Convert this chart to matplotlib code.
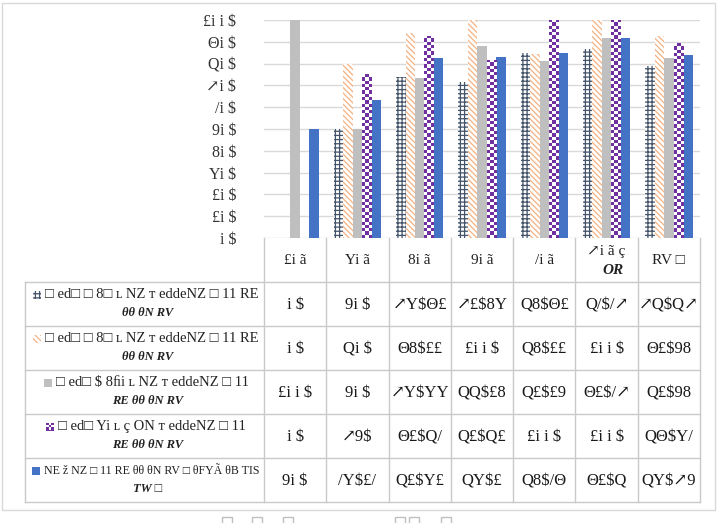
import matplotlib
matplotlib.use('Agg')
import matplotlib.pyplot as plt
from matplotlib.patches import Rectangle
from matplotlib.colors import ListedColormap
import numpy as np

plt.rcParams['font.family'] = ['Liberation Serif', 'DejaVu Serif', 'DejaVu Sans']
plt.rcParams['hatch.linewidth'] = 0.9

# categories / tick labels as they appear in the picture
categories = ['£i ã', 'Yi ã', '8i ã', '9i ã', '/i ã', '↗i ã ç\nOR', 'RV □']
y_ticks = [0, 10, 20, 30, 40, 50, 60, 70, 80, 90, 100]
y_tick_labels = ['i $', '£i $', '£i $', 'Yi $', '8i $', '9i $', '/i $', '↗i $', 'Qi $', 'Θi $', '£i i $']

# series values (percent)
grid_vals = [0, 50, 73.91, 71.43, 84.91, 86.67, 78.87]
orange_vals = [0, 80, 94.12, 100, 84.21, 100, 92.54]
gray_vals = [100, 50, 73.33, 88.24, 81.25, 91.67, 82.54]
purple_vals = [0, 75, 92.86, 81.82, 100, 100, 89.36]
blue_vals = [50, 63.16, 82.35, 83.2, 84.69, 91.8, 83.75]

# row labels of the data table (two lines each)
row_labels = [
    ('□ ed□ □ 8□ ʟ NZ ᴛ eddeNZ □ 11 RE', 'θθ θN RV'),
    ('□ ed□ □ 8□ ʟ NZ ᴛ eddeNZ □ 11 RE', 'θθ θN RV'),
    ('□ ed□ $ 8ﬁi ʟ NZ ᴛ eddeNZ □ 11', 'RE θθ θN RV'),
    ('□ ed□ Yi ʟ ç ON ᴛ eddeNZ □ 11', 'RE θθ θN RV'),
    ('NE ž NZ □ 11 RE θθ θN RV □ θFYÃ θB TIS', 'TW □'),
]

# table cell texts
cell_text = [
    ['i $', '9i $', '↗Y$Θ£', '↗£$8Y', 'Q8$Θ£', 'Q/$/↗', '↗Q$Q↗'],
    ['i $', 'Qi $', 'Θ8$££', '£i i $', 'Q8$££', '£i i $', 'Θ£$98'],
    ['£i i $', '9i $', '↗Y$YY', 'QQ$£8', 'Q£$£9', 'Θ£$/↗', 'Q£$98'],
    ['i $', '↗9$', 'Θ£$Q/', 'Q£$Q£', '£i i $', '£i i $', 'QΘ$Y/'],
    ['9i $', '/Y$£/', 'Q£$Y£', 'QY$£', 'Q8$/Θ', 'Θ£$Q', 'QY$↗9'],
]

PURPLE = '#7030A0'
checker_cmap = ListedColormap([PURPLE, 'white'])
styles = [
    dict(facecolor='white', edgecolor='#44546A', hatch='++++', linewidth=0),
    dict(facecolor='white', edgecolor='#F4B183', hatch='\\\\\\\\\\\\', linewidth=0),
    dict(facecolor='#BFBFBF', edgecolor='#BFBFBF', linewidth=0),
    dict(facecolor=PURPLE, edgecolor=PURPLE, linewidth=0),
    dict(facecolor='#4472C4', edgecolor='#4472C4', linewidth=0),
]
series = [grid_vals, orange_vals, gray_vals, purple_vals, blue_vals]


def checker_fill(ax, rect, nx, cell_h):
    x0, y0 = rect.get_x(), rect.get_y()
    w, h = rect.get_width(), rect.get_height()
    if h == 0:
        return
    ny = max(1, int(round(abs(h) / cell_h)))
    pat = (np.add.outer(np.arange(ny), np.arange(nx)) % 2).astype(float)
    im = ax.imshow(pat, extent=(x0, x0 + w, y0, y0 + h),
                   cmap=checker_cmap, aspect='auto', interpolation='nearest',
                   origin='lower', vmin=0, vmax=1, zorder=rect.get_zorder() + 0.1)
    im.set_clip_path(rect)


W, H = 720, 523
fig = plt.figure(figsize=(7.2, 5.23), dpi=100)

# overlay in pixel coordinates for frame and table
ov = fig.add_axes([0, 0, 1, 1])
ov.set_xlim(0, W)
ov.set_ylim(H, 0)
ov.axis('off')

LINE = '#C9C9C9'
ov.add_patch(Rectangle((1.5, 3), 713.5, 507, fill=False, edgecolor='#D9D9D9', lw=1))

# main bar axes
left, right, top, bottom = 264, 700, 20, 238
ax = fig.add_axes([left / W, 1 - bottom / H, (right - left) / W, (bottom - top) / H])
ax.set_facecolor('none')

n = len(categories)
x = np.arange(n)
bw = 0.152
for i, (vals, st) in enumerate(zip(series, styles)):
    bars = ax.bar(x + (i - 2) * bw, vals, bw, zorder=3, **st)
    if i == 3:
        for b in bars:
            checker_fill(ax, b, 3, 1.5)

ax.set_xlim(-0.5, n - 0.5)
ax.set_ylim(0, 100)
ax.set_yticks(y_ticks)
ax.set_yticklabels(y_tick_labels, fontsize=11.5, color='#333333')
ax.tick_params(axis='y', length=0, pad=20)
ax.set_xticks([])
ax.grid(axis='y', color='#D9D9D9', lw=1, zorder=0)
for s in ax.spines.values():
    s.set_visible(False)

# data table
col_w = (right - left) / n
col_edges = [left + i * col_w for i in range(n + 1)]
row_edges = [238, 282, 326, 370, 414, 458, 502]
lab_left = 25

for xe in col_edges:
    ov.plot([xe, xe], [row_edges[0], row_edges[-1]], color=LINE, lw=1)
ov.plot([lab_left, lab_left], [row_edges[1], row_edges[-1]], color=LINE, lw=1)
for ye in row_edges[1:]:
    ov.plot([lab_left, right], [ye, ye], color=LINE, lw=1)

# header (categories)
hy = (row_edges[0] + row_edges[1]) / 2
for j, c in enumerate(categories):
    cx = left + (j + 0.5) * col_w
    parts = c.split('\n')
    if len(parts) == 1:
        ov.text(cx, hy + 1, parts[0], ha='center', va='center', fontsize=11, color='#222222')
    else:
        ov.text(cx, hy - 8, parts[0], ha='center', va='center', fontsize=11, color='#222222')
        ov.text(cx + 6, hy + 11, parts[1], ha='center', va='center', fontsize=11,
                fontweight='bold', fontstyle='italic', color='#222222')

# values
for r, row in enumerate(cell_text):
    cy = (row_edges[r + 1] + row_edges[r + 2]) / 2
    for j, t in enumerate(row):
        cx = left + (j + 0.5) * col_w
        ov.text(cx, cy + 1, t, ha='center', va='center', fontsize=12, color='#1a1a1a')

# row labels with legend keys
fig.canvas.draw()
renderer = fig.canvas.get_renderer()
inv = ov.transData.inverted()
lab_cx = 146
for r, (l1, l2) in enumerate(row_labels):
    cy = (row_edges[r + 1] + row_edges[r + 2]) / 2
    fs = 8.6 if r == 4 else 10.5
    t1 = ov.text(lab_cx + 6, cy - 9.5, l1, ha='center', va='center', fontsize=fs, color='#222222')
    ov.text(lab_cx + 2, cy + 9.5, l2, ha='center', va='center', fontsize=9,
            fontweight='bold', fontstyle='italic', color='#222222')
    bb = t1.get_window_extent(renderer)
    x0 = inv.transform((bb.x0, bb.y0))[0]
    key = Rectangle((x0 - 12, cy - 13.5), 8, 8, **styles[r])
    ov.add_patch(key)
    if r == 3:
        checker_fill(ov, key, 3, 2.7)
ov.set_xlim(0, W)
ov.set_ylim(H, 0)

# clipped legend keys at the very bottom
for kx in [222, 252, 283, 395, 409, 441]:
    ov.add_patch(Rectangle((kx, 517), 10, 10, fill=False, edgecolor='#BFBFBF', lw=1))

fig.savefig('out.png', dpi=100)
